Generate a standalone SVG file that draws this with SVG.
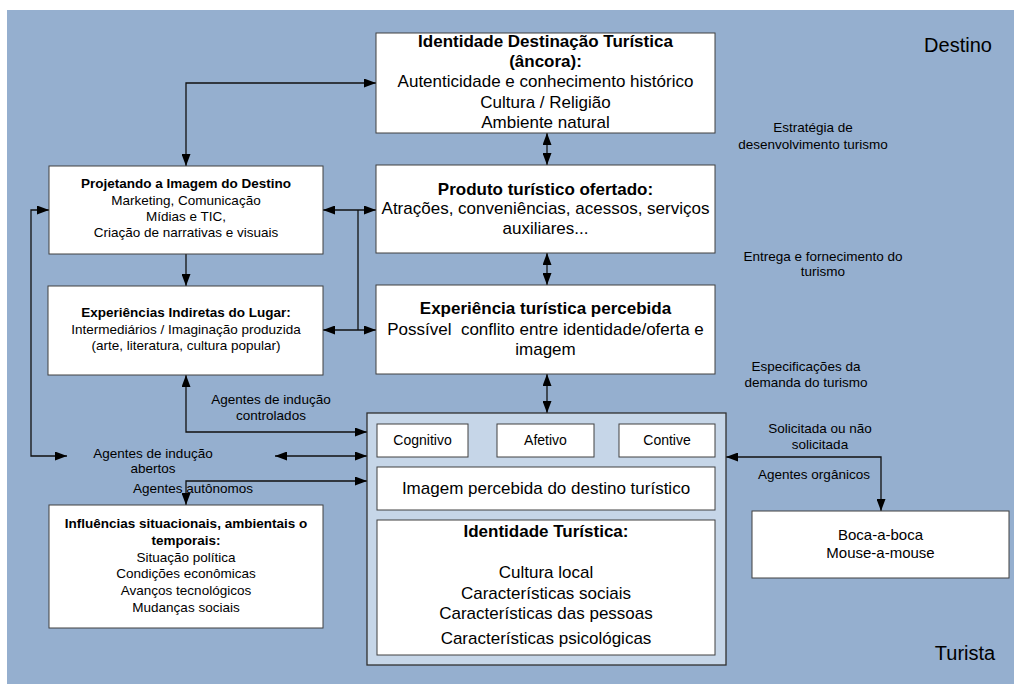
<svg xmlns="http://www.w3.org/2000/svg" width="1014" height="684" viewBox="0 0 1014 684">
<defs>
<marker id="arr" viewBox="0 0 12 9" refX="12" refY="4.5" markerWidth="12" markerHeight="9" markerUnits="userSpaceOnUse" orient="auto-start-reverse">
<path d="M0,0 L12,4.5 L0,9 z" fill="#000"/>
</marker>
<style>
text{font-family:"Liberation Sans",Arial,sans-serif;fill:#000;text-anchor:middle}
.box{fill:#fff;stroke:#404040;stroke-width:1}
.big{font-size:17px}
.sm{font-size:13.5px}
.b{font-weight:bold}
.lbl{font-size:13.5px}
.cn{fill:none;stroke:#111;stroke-width:1.3}
.both{marker-start:url(#arr);marker-end:url(#arr)}
.end{marker-end:url(#arr)}
</style>
</defs>
<rect x="7" y="10" width="1007" height="674" fill="#95afcf"/>
<text x="958" y="52" style="font-size:20px">Destino</text>
<text x="965" y="660" style="font-size:20px">Turista</text>

<g id="connectors">
<path class="cn both" d="M186,166 V83 H376"/>
<path class="cn both" d="M323,210 H376"/>
<path class="cn both" d="M323,330 H376"/>
<path class="cn" d="M358,210 V330"/>
<path class="cn end" d="M186,254 V286"/>
<path class="cn both" d="M547,133 V165"/>
<path class="cn both" d="M547,253 V285"/>
<path class="cn both" d="M547,374 V413"/>
<path class="cn both" d="M186,375 V432 H367"/>
<path class="cn both" d="M67,456 H31 V210 H49"/>
<path class="cn both" d="M275,456 H367"/>
<path class="cn both" d="M186,505 V481 H367"/>
<path class="cn both" d="M726,457 H881 V511"/>
</g>

<g id="labels">
<text class="lbl" x="813" y="132">Estratégia de</text>
<text class="lbl" x="813" y="149">desenvolvimento turismo</text>
<text class="lbl" x="823" y="261">Entrega e fornecimento do</text>
<text class="lbl" x="823" y="276">turismo</text>
<text class="lbl" x="806" y="371">Especificações da</text>
<text class="lbl" x="806" y="387">demanda do turismo</text>
<text class="lbl" x="271" y="404">Agentes de indução</text>
<text class="lbl" x="271" y="420">controlados</text>
<text class="lbl" x="153" y="458">Agentes de indução</text>
<text class="lbl" x="153" y="473">abertos</text>
<text class="lbl" x="193" y="493">Agentes autônomos</text>
<text class="lbl" x="820" y="433">Solicitada ou não</text>
<text class="lbl" x="820" y="449">solicitada</text>
<text class="lbl" x="814" y="479">Agentes orgânicos</text>
</g>

<g id="identidade-destinacao">
<rect class="box" x="376" y="33" width="339" height="100"/>
<text class="big b" x="545.5" y="47">Identidade Destinação Turística</text>
<text class="big b" x="545.5" y="67">(âncora):</text>
<text class="big" x="545.5" y="87">Autenticidade e conhecimento histórico</text>
<text class="big" x="545.5" y="108">Cultura / Religião</text>
<text class="big" x="545.5" y="128">Ambiente natural</text>
</g>

<g id="produto">
<rect class="box" x="376" y="165" width="339" height="88"/>
<text class="big b" x="545.5" y="195">Produto turístico ofertado:</text>
<text class="big" x="545.5" y="214">Atrações, conveniências, acessos, serviços</text>
<text class="big" x="545.5" y="234">auxiliares...</text>
</g>

<g id="experiencia">
<rect class="box" x="376" y="285" width="339" height="89"/>
<text class="big b" x="545.5" y="314">Experiência turística percebida</text>
<text class="big" x="545.5" y="335" xml:space="preserve">Possível  conflito entre identidade/oferta e</text>
<text class="big" x="545.5" y="355">imagem</text>
</g>

<g id="imagem-turista">
<rect x="367" y="413" width="359" height="252" fill="#c6d6e8" stroke="#303030" stroke-width="1.3"/>
<g id="cognitivo">
<rect class="box" x="377" y="424" width="91" height="33"/>
<text x="422.5" y="445" style="font-size:14px">Cognitivo</text>
</g>
<g id="afetivo">
<rect class="box" x="497" y="424" width="97" height="33"/>
<text x="545.5" y="445" style="font-size:14px">Afetivo</text>
</g>
<g id="contive">
<rect class="box" x="619" y="424" width="96" height="33"/>
<text x="667" y="445" style="font-size:14px">Contive</text>
</g>
<g id="imagem-percebida">
<rect class="box" x="377" y="467" width="338" height="43"/>
<text class="big" x="546" y="494">Imagem percebida do destino turístico</text>
</g>
<g id="identidade-turistica">
<rect class="box" x="377" y="520" width="338" height="135"/>
<text class="big b" x="546" y="537">Identidade Turística:</text>
<text class="big" x="546" y="578">Cultura local</text>
<text class="big" x="546" y="599">Características sociais</text>
<text class="big" x="546" y="619">Características das pessoas</text>
<text class="big" x="546" y="644">Características psicológicas</text>
</g>
</g>

<g id="projetando">
<rect class="box" x="49" y="166" width="274" height="88"/>
<text class="sm b" x="186" y="188">Projetando a Imagem do Destino</text>
<text class="sm" x="186" y="205">Marketing, Comunicação</text>
<text class="sm" x="186" y="221">Mídias e TIC,</text>
<text class="sm" x="186" y="237">Criação de narrativas e visuais</text>
</g>

<g id="experiencias-indiretas">
<rect class="box" x="48" y="286" width="275" height="89"/>
<text class="sm b" x="186" y="317">Experiências Indiretas do Lugar:</text>
<text class="sm" x="186" y="334">Intermediários / Imaginação produzida</text>
<text class="sm" x="186" y="350">(arte, literatura, cultura popular)</text>
</g>

<g id="influencias">
<rect class="box" x="49" y="505" width="274" height="123"/>
<text class="sm b" x="186" y="528">Influências situacionais, ambientais o</text>
<text class="sm b" x="186" y="545">temporais:</text>
<text class="sm" x="186" y="562">Situação política</text>
<text class="sm" x="186" y="578">Condições econômicas</text>
<text class="sm" x="186" y="595">Avanços tecnológicos</text>
<text class="sm" x="186" y="612">Mudanças sociais</text>
</g>

<g id="boca">
<rect class="box" x="752" y="511" width="257" height="67"/>
<text x="880.5" y="540" style="font-size:15px">Boca-a-boca</text>
<text x="880.5" y="558" style="font-size:15px">Mouse-a-mouse</text>
</g>
</svg>
